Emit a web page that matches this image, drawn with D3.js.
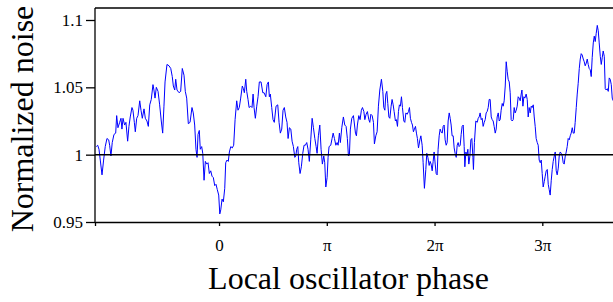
<!DOCTYPE html>
<html>
<head>
<meta charset="utf-8">
<script src="https://cdn.jsdelivr.net/npm/d3@7"></script>
<style>
    body { margin: 0; background: #fff; }
    svg { display: block; }
    .axis path, .axis line { stroke: #000; stroke-width: 1.3px; }
    .axis text { font-family: "Liberation Serif", "Times New Roman", serif; font-size: 17px; fill: #000; }
    .title { font-family: "Liberation Serif", "Times New Roman", serif; font-size: 32px; fill: #000; }
</style>
</head>
<body>
<svg id="chart" width="613" height="302"></svg>
<script>
// phase in units of pi
var phaseOverPi = [
    -1.139, -1.126, -1.114, -1.102, -1.086, -1.071, -1.056, -1.040, -1.024, -1.015,
    -1.003, -0.991, -0.975, -0.959, -0.950, -0.938, -0.922, -0.910, -0.901, -0.891,
    -0.876, -0.864, -0.848, -0.836, -0.824, -0.808, -0.799, -0.786, -0.777, -0.764,
    -0.752, -0.736, -0.724, -0.712, -0.696, -0.684, -0.669, -0.656, -0.643, -0.629,
    -0.613, -0.604, -0.594, -0.582, -0.566, -0.551, -0.536, -0.523, -0.511, -0.501,
    -0.483, -0.464, -0.448, -0.434, -0.424, -0.411, -0.402, -0.390, -0.371, -0.356,
    -0.341, -0.325, -0.313, -0.300, -0.285, -0.269, -0.251, -0.239, -0.226, -0.214,
    -0.204, -0.195, -0.183, -0.174, -0.161, -0.151, -0.139, -0.127, -0.114, -0.102,
    -0.090, -0.077, -0.065, -0.053, -0.040, -0.028, -0.016, -0.003, 0.007, 0.016,
    0.028, 0.040, 0.053, 0.062, 0.074, 0.086, 0.096, 0.109, 0.123, 0.136,
    0.149, 0.164, 0.176, 0.188, 0.201, 0.216, 0.226, 0.235, 0.248, 0.257,
    0.269, 0.279, 0.294, 0.306, 0.316, 0.325, 0.337, 0.350, 0.362, 0.374,
    0.390, 0.406, 0.418, 0.434, 0.446, 0.458, 0.467, 0.476, 0.489, 0.501,
    0.513, 0.529, 0.545, 0.557, 0.569, 0.582, 0.594, 0.606, 0.619, 0.631,
    0.641, 0.653, 0.666, 0.678, 0.690, 0.703, 0.712, 0.721, 0.731, 0.740,
    0.752, 0.764, 0.777, 0.789, 0.801, 0.814, 0.826, 0.838, 0.851, 0.864,
    0.876, 0.889, 0.901, 0.910, 0.922, 0.935, 0.947, 0.959, 0.972, 0.981,
    0.991, 1.003, 1.012, 1.021, 1.037, 1.049, 1.059, 1.071, 1.084, 1.096,
    1.105, 1.117, 1.126, 1.139, 1.154, 1.167, 1.179, 1.191, 1.201, 1.210,
    1.219, 1.232, 1.247, 1.253, 1.266, 1.275, 1.284, 1.297, 1.309, 1.321,
    1.331, 1.344, 1.353, 1.365, 1.377, 1.390, 1.399, 1.409, 1.421, 1.433,
    1.442, 1.455, 1.467, 1.479, 1.492, 1.507, 1.520, 1.529, 1.539, 1.548,
    1.557, 1.566, 1.576, 1.585, 1.597, 1.606, 1.616, 1.625, 1.637, 1.646,
    1.656, 1.665, 1.674, 1.683, 1.693, 1.702, 1.715, 1.724, 1.734, 1.746,
    1.758, 1.767, 1.776, 1.786, 1.795, 1.804, 1.813, 1.823, 1.832, 1.841,
    1.851, 1.864, 1.873, 1.885, 1.894, 1.906, 1.919, 1.928, 1.938, 1.950,
    1.959, 1.968, 1.978, 1.987, 1.996, 2.006, 2.015, 2.024, 2.033, 2.043,
    2.052, 2.061, 2.071, 2.080, 2.089, 2.098, 2.108, 2.117, 2.126, 2.136,
    2.145, 2.154, 2.163, 2.173, 2.182, 2.191, 2.201, 2.210, 2.219, 2.228,
    2.238, 2.247, 2.256, 2.266, 2.275, 2.281, 2.291, 2.300, 2.309, 2.318,
    2.328, 2.337, 2.346, 2.356, 2.361, 2.370, 2.383, 2.396, 2.405, 2.414,
    2.423, 2.433, 2.442, 2.451, 2.461, 2.470, 2.479, 2.488, 2.498, 2.507,
    2.516, 2.526, 2.535, 2.544, 2.553, 2.563, 2.572, 2.581, 2.591, 2.600,
    2.609, 2.618, 2.628, 2.637, 2.646, 2.656, 2.665, 2.674, 2.683, 2.693,
    2.702, 2.711, 2.721, 2.730, 2.739, 2.748, 2.758, 2.767, 2.776, 2.786,
    2.795, 2.804, 2.811, 2.820, 2.829, 2.838, 2.850, 2.860, 2.869, 2.878,
    2.888, 2.897, 2.906, 2.916, 2.925, 2.934, 2.943, 2.953, 2.962, 2.971,
    2.981, 2.990, 2.999, 3.008, 3.018, 3.027, 3.036, 3.046, 3.055, 3.064,
    3.073, 3.083, 3.092, 3.101, 3.111, 3.120, 3.129, 3.138, 3.148, 3.157,
    3.166, 3.176, 3.185, 3.194, 3.203, 3.213, 3.222, 3.231, 3.240, 3.250,
    3.259, 3.268, 3.278, 3.287, 3.296, 3.305, 3.315, 3.324, 3.333, 3.343,
    3.352, 3.361, 3.370, 3.380, 3.389, 3.398, 3.408, 3.417, 3.426, 3.435,
    3.445, 3.454, 3.463, 3.473, 3.482, 3.491, 3.500, 3.510, 3.519, 3.528,
    3.538, 3.547, 3.556, 3.565, 3.575, 3.584, 3.593, 3.603, 3.612, 3.621,
    3.630, 3.640, 3.649, 3.658
];

var noise = [
    1.006, 1.007, 1.004, 0.996, 0.985, 0.996, 1.006, 1.012, 1.011, 1.007,
    0.999, 1.009, 1.015, 1.016, 1.029, 1.020, 1.024, 1.027, 1.019, 1.027,
    1.022, 1.024, 1.010, 1.021, 1.028, 1.035, 1.033, 1.024, 1.017, 1.027,
    1.029, 1.040, 1.033, 1.027, 1.034, 1.027, 1.025, 1.021, 1.037, 1.041,
    1.052, 1.048, 1.042, 1.050, 1.047, 1.037, 1.025, 1.016, 1.036, 1.054,
    1.067, 1.066, 1.064, 1.058, 1.051, 1.048, 1.056, 1.048, 1.046, 1.047,
    1.064, 1.059, 1.047, 1.042, 1.023, 1.024, 1.035, 1.031, 1.022, 1.004,
    0.998, 1.015, 1.018, 1.004, 1.006, 1.001, 0.981, 0.995, 0.993, 0.994,
    0.986, 0.988, 0.984, 0.983, 0.977, 0.978, 0.974, 0.970, 0.956, 0.959,
    0.967, 0.965, 0.975, 0.994, 0.996, 0.995, 1.002, 1.006, 1.005, 1.007,
    1.026, 1.040, 1.033, 1.035, 1.042, 1.051, 1.049, 1.046, 1.056, 1.047,
    1.041, 1.035, 1.036, 1.035, 1.045, 1.035, 1.027, 1.036, 1.043, 1.054,
    1.054, 1.046, 1.046, 1.043, 1.052, 1.054, 1.043, 1.045, 1.035, 1.026,
    1.024, 1.036, 1.037, 1.024, 1.016, 1.019, 1.033, 1.035, 1.028, 1.024,
    1.012, 1.020, 1.019, 1.010, 1.006, 0.998, 0.999, 1.004, 1.006, 0.994,
    0.986, 0.991, 1.001, 1.007, 1.007, 1.009, 1.004, 0.995, 1.011, 1.027,
    1.020, 1.012, 1.006, 1.001, 1.014, 1.022, 1.004, 0.993, 0.999, 0.994,
    0.976, 0.983, 0.998, 1.006, 1.007, 1.012, 1.016, 1.012, 1.007, 1.009,
    1.007, 1.016, 1.009, 1.020, 1.028, 1.022, 1.021, 1.012, 0.999, 1.000,
    1.019, 1.027, 1.029, 1.025, 1.016, 1.014, 1.022, 1.029, 1.026, 1.033,
    1.035, 1.032, 1.026, 1.030, 1.032, 1.026, 1.024, 1.030, 1.029, 1.024,
    1.008, 1.014, 1.017, 1.036, 1.048, 1.056, 1.047, 1.035, 1.033, 1.045,
    1.047, 1.038, 1.028, 1.027, 1.036, 1.041, 1.037, 1.032, 1.025, 1.026,
    1.021, 1.032, 1.037, 1.036, 1.043, 1.035, 1.025, 1.024, 1.031, 1.030,
    1.032, 1.035, 1.027, 1.024, 1.022, 1.017, 1.019, 1.021, 1.016, 1.012,
    1.005, 1.011, 1.014, 1.007, 0.994, 0.975, 0.989, 1.001, 0.998, 0.992,
    0.995, 0.993, 0.988, 0.995, 1.002, 0.993, 0.986, 0.985, 1.004, 1.014,
    1.019, 1.017, 1.016, 1.021, 1.022, 1.011, 1.007, 1.009, 1.025, 1.031,
    1.027, 1.022, 1.014, 1.014, 1.005, 1.001, 0.998, 1.007, 1.009, 1.006,
    1.007, 1.015, 1.021, 1.022, 1.006, 0.991, 1.002, 0.999, 1.004, 0.993,
    0.999, 1.011, 1.012, 0.998, 0.989, 1.009, 1.025, 1.024, 1.027, 1.028,
    1.031, 1.026, 1.027, 1.021, 1.024, 1.026, 1.031, 1.032, 1.035, 1.041,
    1.041, 1.028, 1.026, 1.025, 1.021, 1.016, 1.019, 1.028, 1.031, 1.025,
    1.026, 1.033, 1.038, 1.036, 1.040, 1.051, 1.069, 1.062, 1.056, 1.054,
    1.046, 1.026, 1.025, 1.026, 1.035, 1.031, 1.033, 1.036, 1.043, 1.042,
    1.040, 1.045, 1.048, 1.036, 1.043, 1.042, 1.045, 1.041, 1.028, 1.035,
    1.031, 1.036, 1.035, 1.037, 1.028, 1.021, 1.012, 1.009, 1.007, 0.996,
    0.994, 0.996, 0.986, 0.976, 0.980, 0.984, 0.988, 0.989, 0.978, 0.974,
    0.970, 0.981, 0.989, 0.995, 0.999, 1.002, 0.988, 0.985, 0.990, 0.999,
    1.002, 1.001, 0.999, 0.994, 0.993, 0.999, 1.002, 1.006, 1.012, 1.011,
    1.014, 1.016, 1.020, 1.016, 1.016, 1.024, 1.035, 1.045, 1.053, 1.064,
    1.071, 1.075, 1.074, 1.071, 1.069, 1.066, 1.068, 1.071, 1.067, 1.064,
    1.063, 1.058, 1.072, 1.083, 1.088, 1.084, 1.090, 1.096, 1.092, 1.083,
    1.073, 1.067, 1.072, 1.077, 1.073, 1.049, 1.048, 1.049, 1.047, 1.057,
    1.056, 1.052, 1.042, 1.040
];

var yTicks = [0.95, 1, 1.05, 1.1];
var xTicks = [0, 1, 2, 3];
var xTickLabels = ["0", "\u03c0", "2\u03c0", "3\u03c0"];
var referenceLevel = 1;

function noiseVisual() {
    var svg = d3.select("#chart"),
        left = 95, right = 613, top = 8, bottom = 222;

    var x = d3.scaleLinear().domain([-1.151, 3.656]).range([left, right]),
        y = d3.scaleLinear().domain([0.95, 1.1]).range([bottom, 20]);

    var data = phaseOverPi.map((p, i) => ({ phase: p, noise: noise[i] }));

    svg.append("defs").append("clipPath")
        .attr("id", "clip")
        .append("rect")
        .attr("x", left)
        .attr("y", top)
        .attr("width", right - left)
        .attr("height", bottom - top);

    // frame on top
    svg.append("line")
        .attr("x1", left).attr("x2", right)
        .attr("y1", top).attr("y2", top)
        .attr("stroke", "#000")
        .attr("stroke-width", 1.3);

    // the noisy trace
    var line = d3.line()
        .x(d => x(d.phase))
        .y(d => y(d.noise));

    svg.append("path")
        .datum(data)
        .attr("clip-path", "url(#clip)")
        .attr("fill", "none")
        .attr("stroke", "#0000ff")
        .attr("stroke-width", 1)
        .attr("stroke-linejoin", "round")
        .attr("d", line);

    // level 1 reference
    svg.append("line")
        .attr("x1", left).attr("x2", right)
        .attr("y1", y(referenceLevel)).attr("y2", y(referenceLevel))
        .attr("stroke", "#000")
        .attr("stroke-width", 1.5);

    // x axis
    var xAxis = d3.axisBottom(x)
        .tickValues([x.domain()[0]].concat(xTicks))
        .tickFormat(d => { var i = xTicks.indexOf(d); return i < 0 ? "" : xTickLabels[i]; })
        .tickSize(4)
        .tickSizeOuter(0)
        .tickPadding(13);

    svg.append("g")
        .attr("class", "axis axis--x")
        .attr("transform", "translate(0," + bottom + ")")
        .call(xAxis);

    // y axis
    var yAxis = d3.axisLeft(y)
        .tickValues(yTicks)
        .tickFormat(d3.format("~g"))
        .tickSize(9)
        .tickSizeOuter(0)
        .tickPadding(3);

    var gy = svg.append("g")
        .attr("class", "axis axis--y")
        .attr("transform", "translate(" + left + ",0)")
        .call(yAxis);
    gy.select(".domain").attr("d", "M0," + top + "V" + bottom);

    svg.append("text")
        .attr("class", "title")
        .attr("text-anchor", "middle")
        .attr("transform", "translate(33,119) rotate(-90)")
        .text("Normalized noise");

    svg.append("text")
        .attr("class", "title")
        .attr("text-anchor", "middle")
        .attr("x", 348.5)
        .attr("y", 289)
        .text("Local oscillator phase");
}

noiseVisual();
</script>
</body>
</html>
